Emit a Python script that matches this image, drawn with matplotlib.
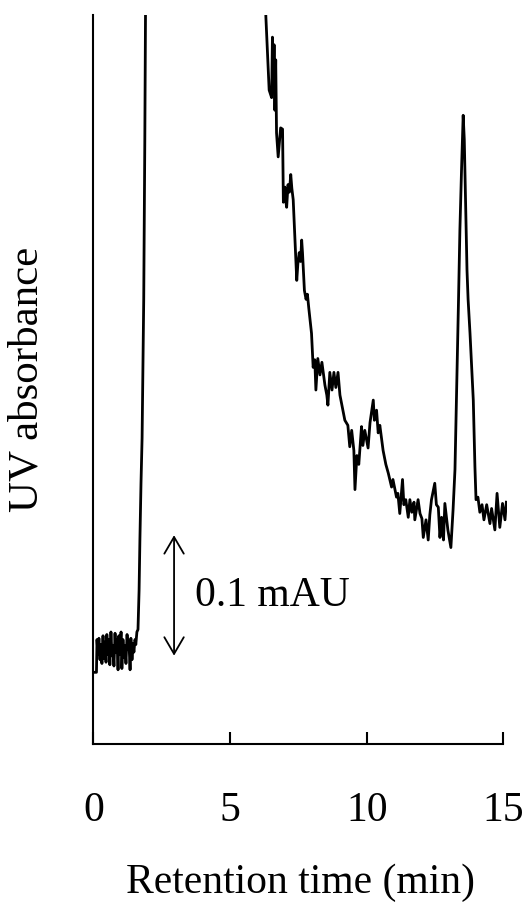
import matplotlib
matplotlib.use("Agg")
import matplotlib.pyplot as plt
from matplotlib.patches import FancyArrowPatch

plt.rcParams['font.family'] = ['Liberation Serif', 'DejaVu Serif']

# retention time (min) and UV absorbance (mAU)
time_min = [
    0.03, 0.11, 0.13, 0.165, 0.20, 0.24, 0.27, 0.31, 0.35, 0.38, 0.42, 0.46,
    0.49, 0.53, 0.57, 0.60, 0.64, 0.68, 0.71, 0.75, 0.79, 0.82, 0.86, 0.90,
    0.93, 0.97, 1.01, 1.04, 1.08, 1.12, 1.15, 1.19, 1.23, 1.26, 1.30, 1.34,
    1.37, 1.41, 1.45, 1.48, 1.52, 1.55, 1.59, 1.63,
    1.67, 1.70, 1.74, 1.78, 1.84, 1.88, 1.91, 2.0, 6.0, 6.25,
    6.31, 6.43, 6.52, 6.55, 6.59, 6.61, 6.64, 6.67, 6.70, 6.76, 6.85, 6.92,
    6.95, 7.01, 7.04, 7.07, 7.12, 7.17, 7.22, 7.26, 7.31, 7.44, 7.48, 7.53,
    7.58, 7.62, 7.65, 7.72, 7.78, 7.83, 7.88,
    7.98, 8.04, 8.10, 8.14, 8.21, 8.29, 8.36, 8.47, 8.54, 8.58, 8.65, 8.73,
    8.80, 8.87, 8.95, 9.02, 9.13, 9.20, 9.31, 9.38, 9.45, 9.53, 9.57, 9.64,
    9.71, 9.81, 9.86, 9.93, 10.05, 10.12, 10.24, 10.28, 10.36, 10.42, 10.48,
    10.60, 10.70, 10.79, 10.91, 10.96, 11.09, 11.14, 11.21, 11.31, 11.36,
    11.43, 11.52, 11.58, 11.65, 11.73, 11.76, 11.88, 11.95, 12.02, 12.07,
    12.17, 12.25, 12.31, 12.37, 12.49, 12.55, 12.62, 12.68, 12.74, 12.81,
    12.86, 12.97, 13.08, 13.16, 13.23, 13.30, 13.36, 13.41, 13.47, 13.53,
    13.57, 13.63, 13.67, 13.71, 13.78, 13.90, 13.96, 14.00, 14.07, 14.14,
    14.22, 14.29, 14.39, 14.51, 14.57, 14.69, 14.77, 14.87, 14.97, 15.06,
    15.11,
]
absorbance = [
    0.057, 0.057, 0.083, 0.071, 0.084, 0.067, 0.079, 0.064, 0.086, 0.068, 0.081, 0.065,
    0.087, 0.071, 0.083, 0.063, 0.089, 0.070, 0.078, 0.062, 0.088, 0.073, 0.083, 0.059,
    0.086, 0.071, 0.089, 0.060, 0.083, 0.069, 0.078, 0.064, 0.087, 0.075, 0.081, 0.059,
    0.084, 0.067, 0.080, 0.073, 0.083, 0.079, 0.089, 0.091,
    0.122, 0.162, 0.207, 0.243, 0.353, 0.480, 0.600, 1.200, 1.200, 0.620,
    0.577, 0.519, 0.513, 0.561, 0.527, 0.555, 0.503, 0.543, 0.485, 0.466, 0.489, 0.488,
    0.430, 0.442, 0.431, 0.426, 0.444, 0.438, 0.452, 0.441, 0.432, 0.368, 0.381, 0.390,
    0.383, 0.400, 0.390, 0.360, 0.353, 0.357, 0.346,
    0.326, 0.299, 0.305, 0.281, 0.306, 0.293, 0.303, 0.285, 0.277, 0.269, 0.295, 0.281,
    0.295, 0.283, 0.295, 0.277, 0.265, 0.257, 0.253, 0.236, 0.249, 0.233, 0.202, 0.229,
    0.222, 0.252, 0.237, 0.249, 0.235, 0.255, 0.273, 0.257, 0.265, 0.247, 0.253,
    0.233, 0.222, 0.215, 0.204, 0.210, 0.196, 0.199, 0.183, 0.210, 0.190,
    0.194, 0.180, 0.194, 0.184, 0.192, 0.178, 0.194, 0.183, 0.179, 0.164,
    0.178, 0.162, 0.182, 0.194, 0.207, 0.190, 0.188, 0.164, 0.180, 0.162,
    0.191, 0.170, 0.156, 0.186, 0.218, 0.289, 0.353, 0.408, 0.456, 0.499,
    0.480, 0.416, 0.376, 0.353, 0.326, 0.273, 0.220, 0.194, 0.196, 0.184,
    0.190, 0.178, 0.190, 0.175, 0.187, 0.170, 0.199, 0.172, 0.191, 0.178,
    0.192,
]

xticks = [0, 5, 10, 15]
scale_bar_t = 2.95
scale_bar = (0.068, 0.168)   # 0.1 mAU

fig = plt.figure(figsize=(5.25, 9.02), dpi=100)
ax = fig.add_axes([0.178, 0.175, 0.787, 0.8084])

ax.plot(time_min, absorbance, color='black', lw=2.0)
ax.set_xlim(0, 15.12)
ax.set_ylim(0, 0.5786)

ax.spines['top'].set_visible(False)
ax.spines['right'].set_visible(False)
ax.spines['left'].set_linewidth(1.5)
ax.spines['bottom'].set_linewidth(1.5)
ax.spines['bottom'].set_bounds(0, 15)

ax.set_xticks(xticks)
ax.set_xticklabels([str(v) for v in xticks])
ax.tick_params(axis='x', direction='in', length=9, width=1.5, labelsize=30, pad=34)
ax.set_yticks([])

ax.set_xlabel('Retention time (min)', fontsize=30, labelpad=24)
ax.set_ylabel('UV absorbance', fontsize=31, labelpad=34)

arrow = FancyArrowPatch((scale_bar_t, scale_bar[0]), (scale_bar_t, scale_bar[1]),
                        arrowstyle='<->,head_length=0.6,head_width=0.35',
                        mutation_scale=20, lw=1.3, color='black')
ax.add_patch(arrow)
ax.text(3.7, sum(scale_bar) / 2, '0.1 mAU', fontsize=30, va='center', ha='left')

fig.savefig('out.png', dpi=100)
